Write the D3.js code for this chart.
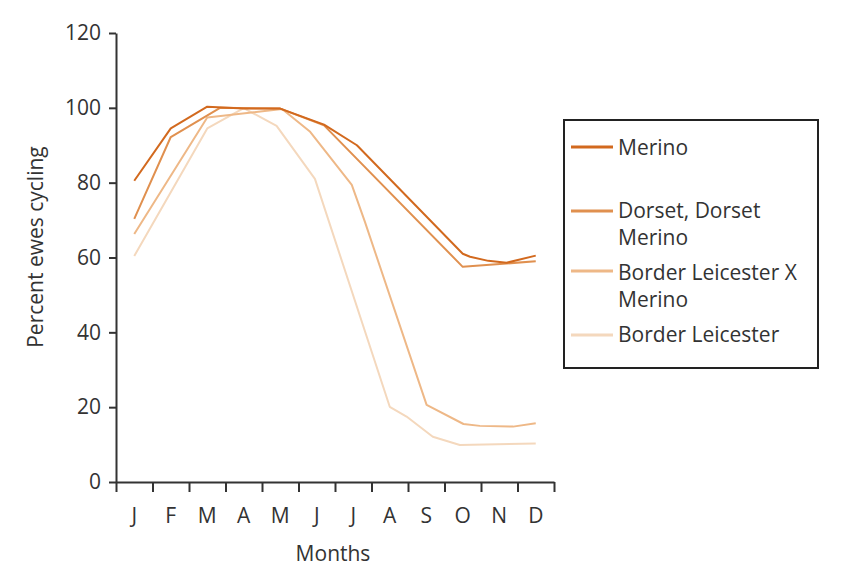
<!DOCTYPE html>
<html>
<head>
<meta charset="utf-8">
<script src="https://cdn.jsdelivr.net/npm/d3@7"></script>
<style>
  body { margin: 0; background: #fff; }
  svg { display: block; }
  text { font-family: "Open Sans", Lato, sans-serif; fill: #333; }
</style>
</head>
<body>
<svg id="chart" width="854" height="570"></svg>
<script>
// ---- Data ----
const months = ["J", "F", "M", "A", "M", "J", "J", "A", "S", "O", "N", "D"];
const yTicks = [0, 20, 40, 60, 80, 100, 120];
const seriesNames = ["Merino", "Dorset, Dorset Merino", "Border Leicester X Merino", "Border Leicester"];
const legendLines = [["Merino"], ["Dorset, Dorset", "Merino"], ["Border Leicester X", "Merino"], ["Border Leicester"]];
const seriesColors = ["#d2691e", "#e0904f", "#eeb887", "#f4d8bd"];

// month position (0 = Jan) and percent
const merinoX = [0, 1, 2, 3, 4, 5.2, 6.1, 9.0, 9.2, 9.7, 10.2, 11];
const merinoY = [80.5, 94.5, 100.3, 99.8, 99.8, 95.5, 90, 61, 60.2, 59.1, 58.6, 60.5];
const dorsetX = [0, 1, 2.35, 4, 5.2, 9.0, 11];
const dorsetY = [70.3, 92.2, 100, 99.8, 95.3, 57.5, 59];
const blxmX = [0, 2, 4.05, 4.82, 5.96, 6.32, 8.01, 9.02, 9.47, 10.38, 11];
const blxmY = [66.3, 97.4, 99.7, 93.6, 79.4, 69.5, 20.6, 15.5, 15, 14.8, 15.7];
const blX = [0, 2, 3, 3.9, 4.95, 7.0, 7.46, 8.18, 8.92, 11];
const blY = [60.4, 94.5, 99.9, 95.2, 81, 20.1, 17.5, 12.1, 9.9, 10.3];

const seriesX = [merinoX, dorsetX, blxmX, blX];
const seriesY = [merinoY, dorsetY, blxmY, blY];

// ---- Layout ----
const FONT = "\"Open Sans\", Lato, sans-serif";
const FS = "21px";
const svg = d3.select("#chart");
const x = d3.scaleLinear().domain([-0.5, 11.5]).range([116, 554]);
const y = d3.scaleLinear().domain([0, 120]).range([482, 33]);

// lines (lightest drawn first)
const line = d3.line().x(d => x(d[0])).y(d => y(d[1]));
for (let i = seriesNames.length - 1; i >= 0; i--) {
  const pts = seriesX[i].map((v, k) => [v, seriesY[i][k]]);
  svg.append("path")
    .datum(pts)
    .attr("fill", "none")
    .attr("stroke", seriesColors[i])
    .attr("stroke-width", 2)
    .attr("stroke-linejoin", "round")
    .attr("d", line);
}

// y axis
const yAxis = d3.axisLeft(y).tickValues(yTicks).tickSize(7).tickSizeOuter(0).tickPadding(8);
const gy = svg.append("g").attr("transform", "translate(116,0)").call(yAxis);
gy.select(".domain").attr("stroke", "#333").attr("stroke-width", 2);
gy.selectAll(".tick line").attr("stroke", "#333").attr("stroke-width", 2);
gy.selectAll(".tick text").style("font-size", FS).style("font-family", FONT).attr("fill", "#333");

// x axis: ticks at month boundaries, labels at centres
const boundaries = d3.range(-0.5, 12, 1);
const xAxis = d3.axisBottom(x).tickValues(boundaries).tickSize(10).tickSizeOuter(0).tickFormat("");
const gx = svg.append("g").attr("transform", "translate(0,482)").call(xAxis);
gx.select(".domain").attr("stroke", "#333").attr("stroke-width", 2);
gx.selectAll(".tick line").attr("stroke", "#333").attr("stroke-width", 2);

svg.append("g").selectAll("text")
  .data(months)
  .join("text")
  .attr("x", (d, i) => x(i))
  .attr("y", 523)
  .attr("text-anchor", "middle")
  .style("font-size", FS)
  .text(d => d);

// axis titles
svg.append("text")
  .attr("x", 333).attr("y", 561)
  .attr("text-anchor", "middle")
  .style("font-size", FS)
  .text("Months");

svg.append("text")
  .attr("transform", "translate(43,247) rotate(-90)")
  .attr("text-anchor", "middle")
  .style("font-size", FS)
  .text("Percent ewes cycling");

// legend
const lg = svg.append("g");
lg.append("rect")
  .attr("x", 564).attr("y", 120).attr("width", 254).attr("height", 248)
  .attr("fill", "#fff").attr("stroke", "#222").attr("stroke-width", 2);
const swatchY = [147, 211, 271, 335];
const textY = [155, 218, 245, 280, 307, 342];
let row = 0;
legendLines.forEach((lines, i) => {
  lg.append("line")
    .attr("x1", 571).attr("x2", 613)
    .attr("y1", swatchY[i]).attr("y2", swatchY[i])
    .attr("stroke", seriesColors[i]).attr("stroke-width", 3);
  lines.forEach(t => {
    lg.append("text")
      .attr("x", 618).attr("y", textY[row++])
      .style("font-size", FS)
      .text(t);
  });
});
</script>
</body>
</html>
